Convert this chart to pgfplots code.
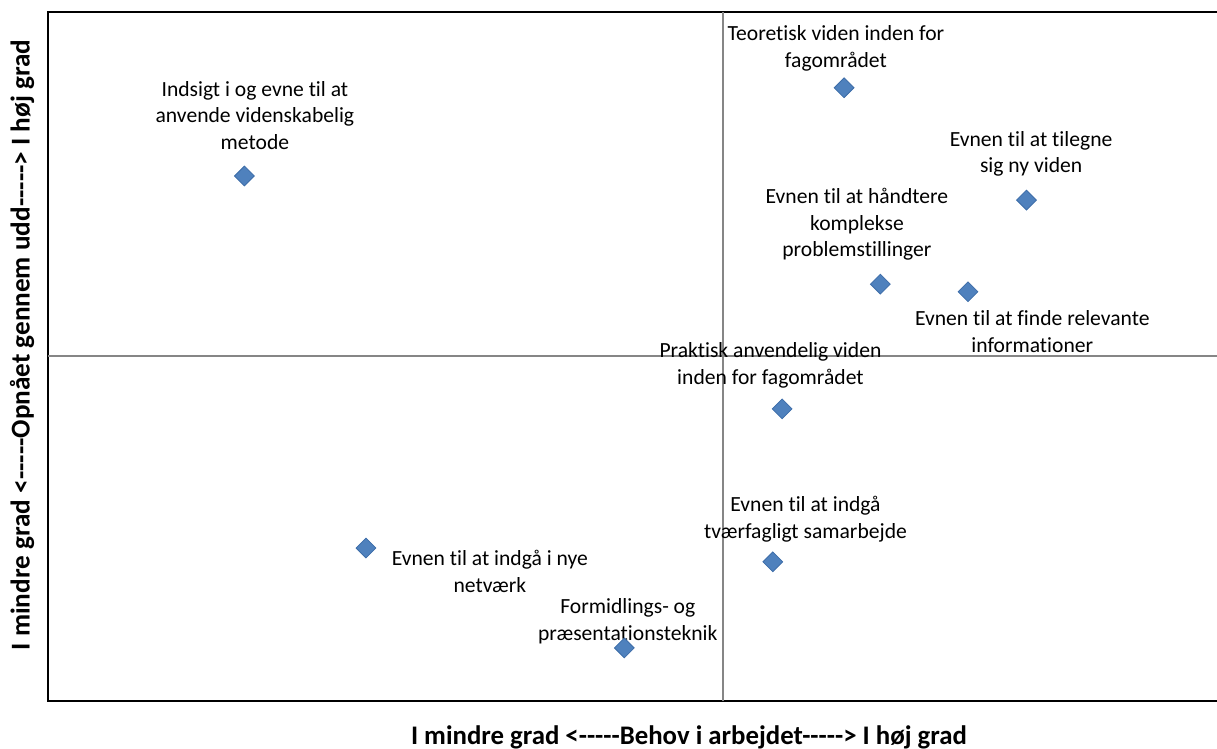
\documentclass[border=0pt]{standalone}
\usepackage{fontspec}
\setmainfont{Carlito}[Ligatures={TeXOff,CommonOff}]
\usepackage{pgfplots}
\pgfplotsset{compat=1.18}
\definecolor{markfill}{HTML}{4F81BD}
\definecolor{markdraw}{HTML}{3D6DA8}
\definecolor{crossgray}{HTML}{868686}
\tikzset{lbl/.style={font=\fontsize{10.8}{13.25}\selectfont, align=center}}
\begin{document}
\begin{tikzpicture}
  \begin{axis}[
    scale only axis,
    width=584.5pt,
    height=344.5pt,
    xmin=0, xmax=100,
    ymin=0, ymax=100,
    axis lines=none,
    ticks=none,
    clip=false,
  ]
    % frame (right side falls outside the picture)
    \draw[line width=1pt] (rel axis cs:1,1) -- (rel axis cs:0,1)
      -- (rel axis cs:0,0) -- (rel axis cs:1,0);
    % quadrant lines
    \draw[crossgray, line width=1pt] (axis cs:57.7,0) -- (axis cs:57.7,100);
    \draw[crossgray, line width=1pt] (axis cs:0,50.1) -- (axis cs:100,50.1);

    \addplot[only marks, mark=square*, mark size=3.5pt,
      mark options={rotate=45, fill=markfill, draw=markdraw, line width=0.4pt}]
      coordinates {
      (16.8,76.2) (68.1,89.0) (83.7,72.7) (71.2,60.5) (78.7,59.4)
      (62.8,42.4) (62.0,20.2) (27.2,22.2) (49.3,7.7)
    };

    \node[lbl] at (axis cs:17.7,85.0) {Indsigt i og evne til at\\anvende videnskabelig\\metode};
    \node[lbl] at (axis cs:67.4,94.7) {Teoretisk viden inden for\\fagområdet};
    \node[lbl] at (axis cs:84.1,79.4) {Evnen til at tilegne\\sig ny viden};
    \node[lbl] at (axis cs:69.2,69.2) {Evnen til at håndtere\\komplekse\\problemstillinger};
    \node[lbl] at (axis cs:84.2,53.6) {Evnen til at finde relevante\\informationer};
    \node[lbl] at (axis cs:61.8,48.7) {Praktisk anvendelig viden\\inden for fagområdet};
    \node[lbl] at (axis cs:64.8,26.4) {Evnen til at indgå\\tværfagligt samarbejde};
    \node[lbl] at (axis cs:37.8,18.8) {Evnen til at indgå i nye\\netværk};
    \node[lbl] at (axis cs:49.6,11.6) {Formidlings- og\\præsentationsteknik};
  \end{axis}
  \node[font=\fontsize{13.4}{16}\selectfont\bfseries] at (320.5pt,-18pt)
    {I mindre grad <-----Behov i arbejdet-----> I høj grad};
  \node[font=\fontsize{13.6}{16}\selectfont\bfseries, rotate=90] at (-13pt,178pt)
    {I mindre grad <-----Opnået gennem udd-----> I høj grad};
  \pgfresetboundingbox
  \path[use as bounding box] (-24pt,-24pt) rectangle (584.5pt,350.5pt);
\end{tikzpicture}
\end{document}
